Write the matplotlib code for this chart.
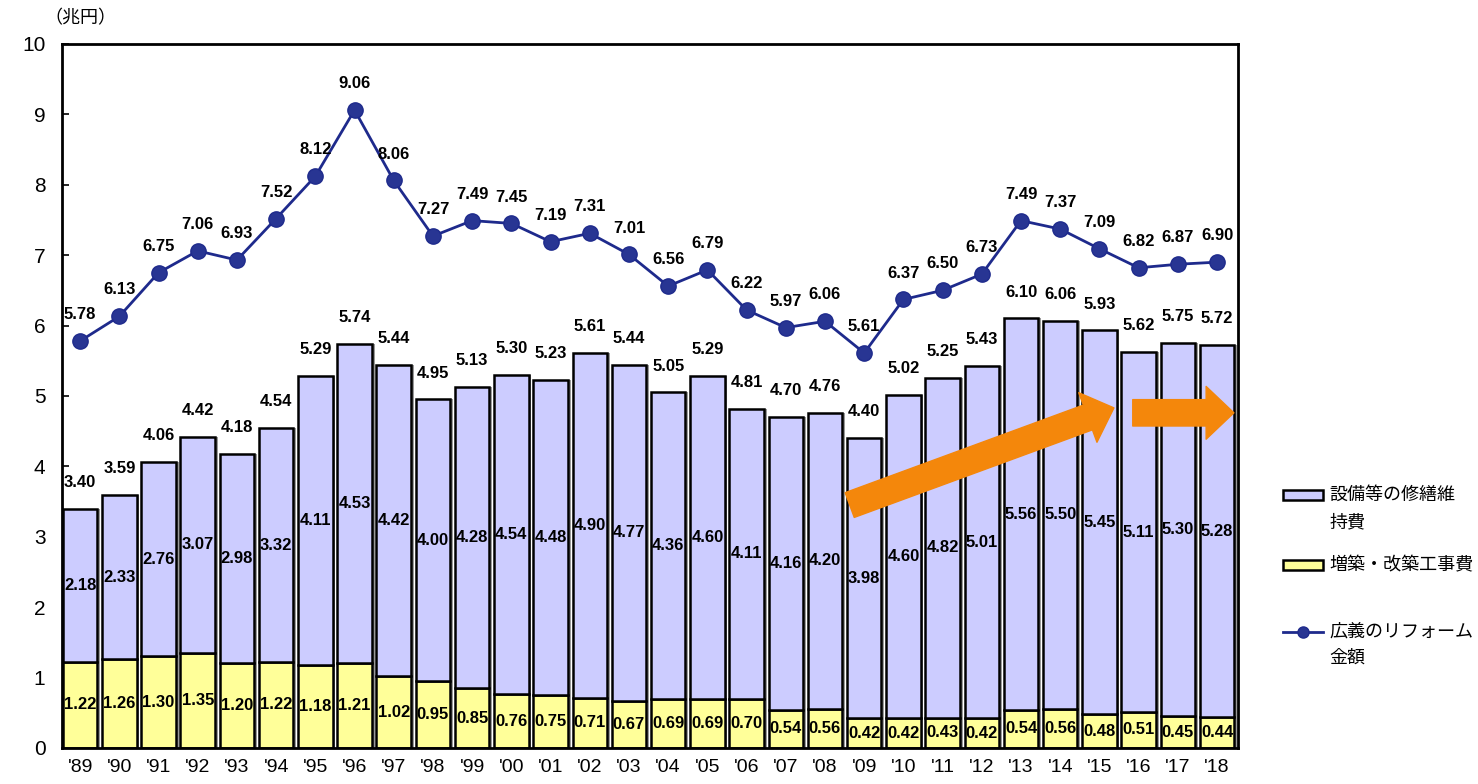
import matplotlib
matplotlib.use("Agg")
import matplotlib.pyplot as plt
from matplotlib.lines import Line2D
from matplotlib.patches import Rectangle


YEARS = ["'89", "'90", "'91", "'92", "'93", "'94", "'95", "'96", "'97", "'98",
         "'99", "'00", "'01", "'02", "'03", "'04", "'05", "'06", "'07", "'08",
         "'09", "'10", "'11", "'12", "'13", "'14", "'15", "'16", "'17", "'18"]

# 増築・改築工事費
EXTENSION = [1.22, 1.26, 1.30, 1.35, 1.20, 1.22, 1.18, 1.21, 1.02, 0.95,
             0.85, 0.76, 0.75, 0.71, 0.67, 0.69, 0.69, 0.70, 0.54, 0.56,
             0.42, 0.42, 0.43, 0.42, 0.54, 0.56, 0.48, 0.51, 0.45, 0.44]

# 設備等の修繕維持費
REPAIR = [2.18, 2.33, 2.76, 3.07, 2.98, 3.32, 4.11, 4.53, 4.42, 4.00,
          4.28, 4.54, 4.48, 4.90, 4.77, 4.36, 4.60, 4.11, 4.16, 4.20,
          3.98, 4.60, 4.82, 5.01, 5.56, 5.50, 5.45, 5.11, 5.30, 5.28]

# 広義のリフォーム金額
BROAD = [5.78, 6.13, 6.75, 7.06, 6.93, 7.52, 8.12, 9.06, 8.06, 7.27,
         7.49, 7.45, 7.19, 7.31, 7.01, 6.56, 6.79, 6.22, 5.97, 6.06,
         5.61, 6.37, 6.50, 6.73, 7.49, 7.37, 7.09, 6.82, 6.87, 6.90]

LAVENDER = "#CCCCFF"
YELLOW = "#FFFF99"
NAVY = "#1E2A8C"
DOT = "#283593"
ORANGE = "#F4870B"

NUM_FONT = "Liberation Sans"
JP_FONT = ["Noto Sans CJK JP", "DejaVu Sans"]

fig = plt.figure(figsize=(14.78, 7.84), dpi=100)
ax = fig.add_axes([0.042, 0.046, 0.7955, 0.898])

x = list(range(len(YEARS)))
width = 0.88
totals = [a + b for a, b in zip(EXTENSION, REPAIR)]

# soft grey shadow on the right of each bar
ax.bar([i + 0.07 for i in x], totals, width=width, color="#9a9a9a",
       edgecolor="none", zorder=1)
ax.bar(x, EXTENSION, width=width, color=YELLOW, edgecolor="black",
       linewidth=1.8, zorder=2)
ax.bar(x, REPAIR, width=width, bottom=EXTENSION, color=LAVENDER,
       edgecolor="black", linewidth=1.8, zorder=2)

ax.plot(x, BROAD, color=NAVY, linewidth=2.0, marker="o", markersize=11,
        markerfacecolor=DOT, markeredgecolor=NAVY, zorder=4)

lab = dict(ha="center", va="center", fontsize=12, fontweight="bold",
           family=NUM_FONT, zorder=5)
for i in x:
    ax.text(i, EXTENSION[i] / 2, f"{EXTENSION[i]:.2f}", **lab)
    ax.text(i, EXTENSION[i] + REPAIR[i] / 2, f"{REPAIR[i]:.2f}", **lab)
    ax.annotate(f"{totals[i]:.2f}", (i, totals[i]), xytext=(0, 19),
                textcoords="offset points", **lab)
    ax.annotate(f"{BROAD[i]:.2f}", (i, BROAD[i]), xytext=(0, 19),
                textcoords="offset points", **lab)

# upward trend arrows
arrow = dict(arrowstyle="simple,head_width=1.9,head_length=1.0,tail_width=0.95",
             mutation_scale=20, color=ORANGE, shrinkA=0, shrinkB=0)
ax.annotate("", xy=(26.37, 4.83), xytext=(19.63, 3.45), arrowprops=arrow, zorder=6)
ax.annotate("", xy=(29.43, 4.76), xytext=(26.85, 4.76), arrowprops=arrow, zorder=6)

ax.set_xlim(-0.46, 29.53)
ax.set_ylim(0, 10)
ax.set_yticks(range(0, 11))
ax.set_xticks(x)
ax.set_xticklabels(YEARS)
ax.tick_params(axis="y", direction="in", length=5, width=1.2, labelsize=15, pad=12)
ax.tick_params(axis="x", length=0, labelsize=14, pad=8)
for t in ax.get_yticklabels() + ax.get_xticklabels():
    t.set_family(NUM_FONT)
for s in ax.spines.values():
    s.set_linewidth(2.0)

fig.text(80 / 1478, 1 - 18 / 784, "（兆円）", ha="center", va="center",
         fontsize=13, family=JP_FONT)

# legend drawn by hand in pixel positions
def px(xp, yp):
    return xp / 1478, 1 - yp / 784

jp = dict(fontsize=13, family=JP_FONT, va="center", ha="left")
for (yp, color) in [(495, LAVENDER), (565, YELLOW)]:
    x0, y0 = px(1283, yp + 5)
    fig.patches.append(Rectangle((x0, y0), 40 / 1478, 10 / 784, facecolor=color,
                                 edgecolor="black", linewidth=1.8,
                                 transform=fig.transFigure))
fig.text(*px(1329, 495), "設備等の修繕維", **jp)
fig.text(*px(1329, 522), "持費", **jp)
fig.text(*px(1329, 565), "増築・改築工事費", **jp)
fig.lines.append(Line2D([1283 / 1478, 1323 / 1478], [1 - 632 / 784] * 2,
                        color=NAVY, linewidth=2.0, transform=fig.transFigure))
fig.lines.append(Line2D([1303 / 1478], [1 - 632 / 784], marker="o", markersize=8,
                        markerfacecolor=DOT, markeredgecolor=NAVY,
                        transform=fig.transFigure))
fig.text(*px(1329, 632), "広義のリフォーム", **jp)
fig.text(*px(1329, 658), "金額", **jp)

fig.savefig("out.png", dpi=100)
